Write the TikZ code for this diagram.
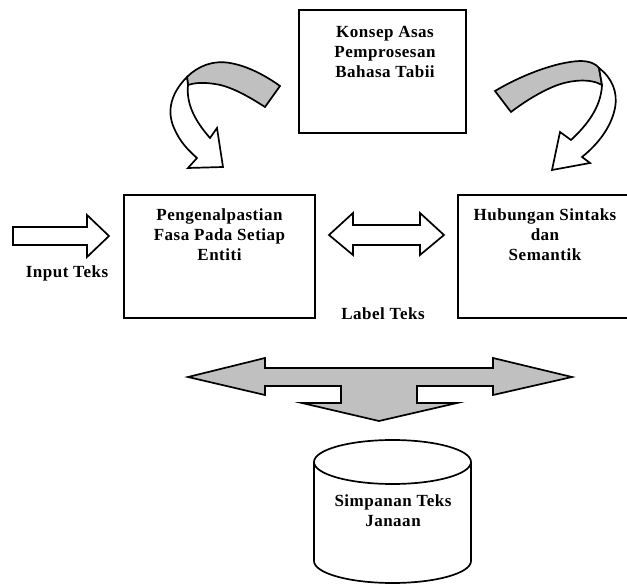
\documentclass[tikz,border=0pt]{standalone}
\usepackage{fontspec}
\setmainfont{Liberation Serif}[LetterSpace=3]
\definecolor{arrowgray}{RGB}{192,192,192}
\begin{document}
\begin{tikzpicture}[x=1pt,y=-1pt,
  outline/.style={draw=black,line width=1.7pt,line join=miter},
  box/.style={outline,rectangle,inner sep=0pt},
  txt/.style={align=center,font=\fontsize{17}{20}\selectfont\bfseries,inner sep=0pt},
  grayfill/.style={outline,fill=arrowgray},
  whitefill/.style={outline,fill=white}]
\useasboundingbox (0,0) rectangle (627,585);

% boxes
\node[box,minimum width=167pt,minimum height=123pt] (konsep) at (382.5,71.5) {};
\node[box,minimum width=191pt,minimum height=123pt] (kenal) at (219.5,256.5) {};
\node[box,minimum width=172pt,minimum height=123pt] (hubungan) at (544,256.5) {};

\node[txt,anchor=north] (tkonsep) at (385,26) {Konsep Asas\\Pemprosesan\\Bahasa Tabii};
\node[txt,anchor=north] (tkenal) at (219.5,209) {Pengenalpastian\\Fasa Pada Setiap\\Entiti};
\node[txt,anchor=north] (thub) at (545,209) {Hubungan Sintaks\\dan\\Semantik};

\node[txt] (input) at (67,273) {Input Teks};
\node[txt] (label) at (383,314) {Label Teks};

% input arrow
\draw[outline,fill=white] (13,227) -- (87,227) -- (87,215) -- (109,236) -- (87,257) -- (87,245) -- (13,245) -- cycle;

% double arrow between boxes
\draw[outline,fill=white] (329,235) -- (353,213) -- (353,225) -- (420,225) -- (420,213) -- (444,235)
  -- (420,255) -- (420,245) -- (353,245) -- (353,255) -- cycle;

% big gray three-way arrow
\draw[grayfill] (188,377) -- (265,358) -- (265,368) -- (493,368) -- (493,358) -- (572,377)
  -- (493,395) -- (493,386) -- (417,386) -- (417,403) -- (457,403) -- (379,421)
  -- (302,403) -- (341,403) -- (341,386) -- (265,386) -- (265,395) -- cycle;

% cylinder
\coordinate (cyltop) at (392.5,462);
\draw[outline,fill=white] (314,462) -- (314,561) arc[start angle=180,end angle=360,x radius=78.5pt,y radius=22pt] -- (471,462);
\draw[outline,fill=white] (cyltop) ellipse[x radius=78.5pt,y radius=22pt];
\node[txt] (simpan) at (393,511) {Simpanan Teks\\Janaan};

% left curved arrow
\draw[grayfill] (187,77) .. controls (198,66) and (213,60) .. (230,63)
  .. controls (248,66) and (266,76) .. (280,86) -- (265,107)
  .. controls (248,96) and (230,86) .. (215,84)
  .. controls (202,82) and (194,83) .. (188,85) -- cycle;
\draw[whitefill] (187,77) .. controls (172,92) and (166,110) .. (174,128)
  .. controls (180,142) and (188,150) .. (197,158) -- (188,168) -- (223,167) -- (217,128) -- (210,138)
  .. controls (196,122) and (186,105) .. (188,85) -- cycle;

% right curved arrow
\draw[grayfill] (495,91) .. controls (520,76) and (555,62) .. (580,61)
  .. controls (590,61) and (596,64) .. (599,68) -- (602,85)
  .. controls (590,78) and (570,80) .. (555,86)
  .. controls (540,92) and (524,102) .. (511,112) -- cycle;
\draw[whitefill] (599,68) .. controls (612,78) and (618,92) .. (615,108)
  .. controls (611,128) and (597,145) .. (582,157) -- (590,163) -- (552,170) -- (560,132) -- (571,140)
  .. controls (586,126) and (601,108) .. (602,85) -- cycle;
\end{tikzpicture}
\end{document}
